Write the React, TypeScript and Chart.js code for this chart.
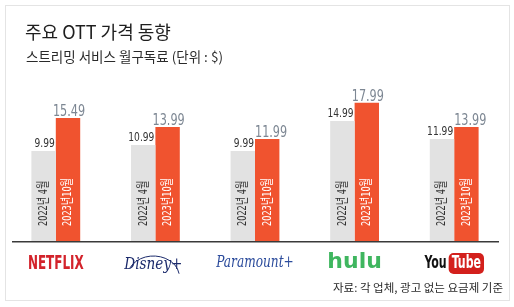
import React, { useEffect, useRef } from "react";
import { Chart, registerables } from "chart.js";

Chart.register(...registerables);

const categories = ["NETFLIX", "Disney+", "Paramount+", "hulu", "YouTube"];
const price2022 = [9.99, 10.99, 9.99, 14.99, 11.99];
const price2023 = [15.49, 13.99, 11.99, 17.99, 13.99];
const seriesLabels = ["2022년 4월", "2023년10월"];
const valueLabels2022 = ["9.99", "10.99", "9.99", "14.99", "11.99"];
const valueLabels2023 = ["15.49", "13.99", "11.99", "17.99", "13.99"];

const Y_MIN = -4.9;
const Y_MAX = 22.6;
const GRAY = "#e2e2e2";
const ORANGE = "#f0532f";
const COND = "'DejaVu Sans Condensed', 'Noto Sans CJK KR', sans-serif";
const KR = "'Noto Sans CJK KR', 'Noto Sans', sans-serif";

// draw horizontally-compressed text; align: "left" | "right" | "center"
function squeezed(ctx: any, text: string, x: number, y: number, sx: number, align: string) {
  const w = ctx.measureText(text).width * sx;
  let left = x;
  if (align === "right") left = x - w;
  else if (align === "center") left = x - w / 2;
  ctx.save();
  ctx.translate(left, y);
  ctx.scale(sx, 1);
  ctx.textAlign = "left";
  ctx.fillText(text, 0, 0);
  ctx.restore();
  return w;
}

const overlayPlugin = {
  id: "overlay",
  afterDatasetsDraw(chart: any) {
    const ctx = chart.ctx;
    const area = chart.chartArea;
    const m0 = chart.getDatasetMeta(0);
    const m1 = chart.getDatasetMeta(1);
    ctx.save();
    // vertical labels inside bars
    [m0, m1].forEach((meta: any, di: number) => {
      meta.data.forEach((bar: any) => {
        ctx.save();
        ctx.translate(bar.x, area.bottom - 15);
        ctx.rotate(-Math.PI / 2);
        ctx.font = "13px " + COND;
        ctx.fillStyle = di === 0 ? "#333333" : "#ffffff";
        ctx.textBaseline = "middle";
        squeezed(ctx, seriesLabels[di], 0, 0, 0.7, "left");
        ctx.restore();
      });
    });
    // value labels
    m0.data.forEach((bar: any, i: number) => {
      const gb = bar;
      const ob = m1.data[i];
      ctx.textBaseline = "alphabetic";
      ctx.font = "13px " + COND;
      ctx.fillStyle = "#333333";
      const gRight = gb.x + gb.width / 2 - 1;
      const gBase = gb.y - 4;
      squeezed(ctx, valueLabels2022[i], gRight, gBase, 0.78, "right");
      ctx.font = "16px " + COND;
      const t = valueLabels2023[i];
      const w = ctx.measureText(t).width * 0.78;
      let left = ob.x - w / 2 + 1;
      const oBase = ob.y - 2;
      const overlapV = oBase > gBase - 11 && oBase - 12 < gBase;
      if (overlapV && left < gRight + 1) left = gRight + 1;
      ctx.fillStyle = "#7d8793";
      squeezed(ctx, t, left, oBase, 0.78, "left");
    });
    // baseline axis line
    ctx.strokeStyle = "#3a3a3a";
    ctx.lineWidth = 1.5;
    ctx.beginPath();
    ctx.moveTo(12, area.bottom + 0.75);
    ctx.lineTo(499, area.bottom + 0.75);
    ctx.stroke();

    // logos
    const xs = chart.scales.x;
    const ly = 263;
    categories.forEach((c, i) => {
      const cx = xs.getPixelForValue(i);
      ctx.textBaseline = "middle";
      if (i === 0) {
        ctx.font = "bold 19px 'DejaVu Sans Condensed', sans-serif";
        ctx.fillStyle = "#d3232b";
        squeezed(ctx, c, cx, ly + 1, 0.7, "center");
      } else if (i === 1) {
        ctx.font = "italic 17px 'DejaVu Serif', serif";
        ctx.fillStyle = "#1b2a6b";
        squeezed(ctx, c, cx - 2, ly + 2, 0.8, "center");
        ctx.strokeStyle = "#1b2a6b";
        ctx.lineWidth = 1;
        ctx.beginPath();
        ctx.ellipse(cx - 2, ly + 14, 26, 21, 0, Math.PI * 1.15, Math.PI * 1.95);
        ctx.stroke();
      } else if (i === 2) {
        ctx.font = "italic 16px 'DejaVu Serif', serif";
        ctx.fillStyle = "#2c4c9c";
        squeezed(ctx, c, cx, ly, 0.76, "center");
      } else if (i === 3) {
        ctx.font = "bold 22px 'DejaVu Sans', sans-serif";
        ctx.fillStyle = "#3fb65f";
        squeezed(ctx, c, cx, ly - 1, 1, "center");
      } else {
        ctx.font = "bold 17px 'DejaVu Sans Condensed', sans-serif";
        const sx = 0.72;
        const wy = ctx.measureText("You").width * sx;
        const wt = ctx.measureText("Tube").width * sx;
        const boxW = wt + 6;
        const total = wy + 2 + boxW;
        const x0 = cx - total / 2;
        ctx.fillStyle = "#111111";
        squeezed(ctx, "You", x0, ly + 1, sx, "left");
        const bx = x0 + wy + 2;
        ctx.fillStyle = "#d3201c";
        ctx.beginPath();
        (ctx as any).roundRect(bx, ly - 10, boxW, 21, 5);
        ctx.fill();
        ctx.fillStyle = "#ffffff";
        squeezed(ctx, "Tube", bx + 3, ly + 1, sx, "left");
      }
    });
    ctx.restore();
  },
};

function App() {
  const ref = useRef<HTMLCanvasElement | null>(null);
  useEffect(() => {
    if (!ref.current) return;
    const chart = new Chart(ref.current, {
      type: "bar",
      data: {
        labels: categories,
        datasets: [
          {
            label: seriesLabels[0],
            data: price2022,
            backgroundColor: GRAY,
            base: Y_MIN,
            categoryPercentage: 0.49,
            barPercentage: 1,
          } as any,
          {
            label: seriesLabels[1],
            data: price2023,
            backgroundColor: ORANGE,
            base: Y_MIN,
            categoryPercentage: 0.49,
            barPercentage: 1,
          } as any,
        ],
      },
      options: {
        animation: false,
        responsive: false,
        maintainAspectRatio: false,
        layout: { padding: { top: 75, bottom: 66, left: 6, right: 10 } },
        plugins: {
          legend: { display: false },
          tooltip: { enabled: false },
          title: { display: false },
        },
        scales: {
          x: { display: false, grid: { display: false } },
          y: { display: false, min: Y_MIN, max: Y_MAX, grid: { display: false } },
        },
      },
      plugins: [overlayPlugin],
    });
    return () => chart.destroy();
  }, []);

  return (
    <div
      style={{
        position: "fixed",
        left: 0,
        top: 0,
        width: 514,
        height: 307,
        background: "#ffffff",
        overflow: "hidden",
      }}
    >
      <div
        style={{
          position: "absolute",
          left: 5,
          top: 5,
          width: 505,
          height: 296,
          border: "1px solid #e4e4e4",
          boxSizing: "border-box",
        }}
      />
      <canvas
        ref={ref}
        width={514}
        height={307}
        style={{ position: "absolute", left: 0, top: 0, width: 514, height: 307 }}
      />
      <div
        style={{
          position: "absolute",
          left: 25,
          top: 19,
          fontFamily: KR,
          fontSize: 18,
          lineHeight: "24px",
          color: "#1e1e1e",
          whiteSpace: "nowrap",
        }}
      >
        주요 OTT 가격 동향
      </div>
      <div
        style={{
          position: "absolute",
          left: 26,
          top: 47,
          fontFamily: KR,
          fontSize: 13.5,
          lineHeight: "18px",
          color: "#2a2a2a",
          whiteSpace: "nowrap",
        }}
      >
        스트리밍 서비스 월구독료 (단위 : $)
      </div>
      <div
        style={{
          position: "absolute",
          right: 11,
          top: 279,
          fontFamily: KR,
          fontSize: 11.5,
          lineHeight: "16px",
          color: "#2a2a2a",
          whiteSpace: "nowrap",
        }}
      >
        자료: 각 업체, 광고 없는 요금제 기준
      </div>
    </div>
  );
}

export default App;
